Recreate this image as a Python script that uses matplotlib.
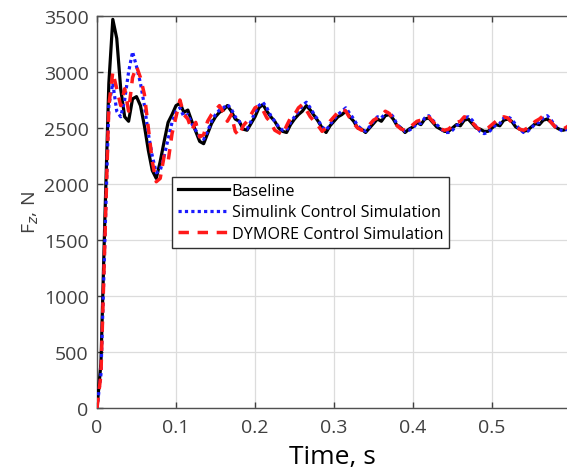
import numpy as np
import matplotlib
matplotlib.use("Agg")
import matplotlib.pyplot as plt

plt.rcParams['font.family'] = ['Open Sans', 'DejaVu Sans']

time_s = np.linspace(0, 0.6, 121)

baseline = [0, 400, 1700, 2900, 3470, 3300, 2850, 2600, 2560, 2760,
            2780, 2700, 2520, 2300, 2120, 2050, 2200, 2380, 2550, 2620,
            2700, 2720, 2640, 2660, 2560, 2470, 2380, 2360, 2450, 2540,
            2600, 2640, 2660, 2700, 2650, 2580, 2560, 2490, 2480, 2540,
            2600, 2680, 2710, 2650, 2600, 2560, 2500, 2470, 2460, 2530,
            2580, 2620, 2650, 2700, 2660, 2610, 2560, 2500, 2460, 2520,
            2560, 2600, 2620, 2650, 2600, 2560, 2500, 2490, 2460, 2500,
            2540, 2580, 2560, 2610, 2620, 2580, 2520, 2500, 2460, 2490,
            2510, 2550, 2530, 2580, 2590, 2550, 2510, 2490, 2470, 2470,
            2500, 2530, 2520, 2570, 2580, 2540, 2500, 2490, 2470, 2470,
            2500, 2530, 2520, 2570, 2580, 2560, 2510, 2490, 2470, 2480,
            2510, 2540, 2530, 2570, 2580, 2550, 2510, 2490, 2480, 2490,
            2520]

simulink = [0, 300, 1500, 2700, 2900, 2650, 2600, 2750, 3000, 3180,
            3050, 2900, 2700, 2450, 2250, 2100, 2120, 2250, 2400, 2550,
            2650, 2680, 2600, 2620, 2540, 2480, 2420, 2400, 2470, 2560,
            2620, 2660, 2680, 2710, 2670, 2600, 2560, 2500, 2490, 2560,
            2640, 2700, 2730, 2680, 2610, 2560, 2510, 2480, 2480, 2550,
            2600, 2650, 2700, 2730, 2680, 2620, 2570, 2510, 2480, 2530,
            2580, 2620, 2650, 2680, 2630, 2580, 2520, 2490, 2470, 2510,
            2560, 2600, 2590, 2630, 2640, 2600, 2530, 2500, 2470, 2480,
            2500, 2540, 2540, 2590, 2610, 2570, 2530, 2500, 2460, 2460,
            2480, 2520, 2540, 2590, 2600, 2570, 2510, 2470, 2450, 2460,
            2490, 2530, 2540, 2590, 2600, 2580, 2530, 2490, 2460, 2470,
            2500, 2540, 2550, 2590, 2610, 2570, 2520, 2490, 2470, 2490,
            2520]

dymore = [0, 300, 1500, 2700, 3000, 2850, 2700, 2850, 2650, 2950,
          3050, 2950, 2800, 2500, 2200, 2020, 2050, 2250, 2200, 2450,
          2600, 2750, 2620, 2580, 2480, 2550, 2420, 2440, 2560, 2620,
          2660, 2700, 2640, 2560, 2620, 2470, 2430, 2520, 2560, 2620,
          2680, 2700, 2660, 2590, 2550, 2480, 2460, 2440, 2520, 2590,
          2620, 2680, 2710, 2660, 2600, 2560, 2520, 2470, 2500, 2560,
          2600, 2640, 2670, 2650, 2590, 2540, 2500, 2480, 2490, 2530,
          2570, 2590, 2610, 2650, 2630, 2580, 2520, 2490, 2480, 2500,
          2530, 2560, 2570, 2600, 2600, 2560, 2520, 2490, 2480, 2490,
          2520, 2550, 2560, 2600, 2590, 2550, 2510, 2480, 2480, 2500,
          2530, 2560, 2570, 2600, 2590, 2550, 2510, 2490, 2480, 2500,
          2530, 2560, 2580, 2610, 2590, 2550, 2510, 2490, 2490, 2510,
          2540]

series_labels = ["Baseline", "Simulink Control Simulation", "DYMORE Control Simulation"]
x_ticks = [0, 0.1, 0.2, 0.3, 0.4, 0.5]
x_tick_labels = ["0", "0.1", "0.2", "0.3", "0.4", "0.5"]
y_ticks = [0, 500, 1000, 1500, 2000, 2500, 3000, 3500]

fig = plt.figure(figsize=(5.67, 4.77), dpi=100)
ax = fig.add_axes([97/567, 68/477, 1 - 97/567, (409-17)/477])

ax.plot(time_s, baseline, color='black', lw=2.3, label=series_labels[0], zorder=3)
ax.plot(time_s, simulink, color='#1a1aff', lw=2.3, ls=(0, (1, 1)), label=series_labels[1], zorder=4)
ax.plot(time_s, dymore, color='#ff1a1a', lw=2.5, ls=(0, (3, 2.5)), label=series_labels[2], zorder=5)

ax.set_xlim(0, 0.595)
ax.set_ylim(0, 3500)
ax.set_xticks(x_ticks)
ax.set_xticklabels(x_tick_labels)
ax.set_yticks(y_ticks)
ax.grid(True, color='#dcdcdc', lw=0.9)
ax.set_axisbelow(True)
ax.tick_params(direction='in', top=True, right=False, length=4, width=1,
               labelsize=14, labelcolor='#404040', color='#404040')
ax.tick_params(axis='x', pad=7)
ax.tick_params(axis='y', pad=6)
for s in ['left', 'bottom', 'top']:
    ax.spines[s].set_color('#505050')
    ax.spines[s].set_linewidth(1.0)
ax.spines['right'].set_visible(False)

ax.set_xlabel("Time, s", fontsize=19, color='black', labelpad=6)
ax.set_ylabel("F$_z$, N", fontsize=14, color='#404040', labelpad=2)

leg = ax.legend(loc='upper left', bbox_to_anchor=(172/567, 1 - 178/477),
                bbox_transform=fig.transFigure, borderaxespad=0,
                fontsize=11.6, frameon=True, fancybox=False, framealpha=1,
                edgecolor='#303030', handlelength=3.2, handletextpad=0.15,
                labelspacing=0.35, borderpad=0.35)
leg.get_frame().set_linewidth(1.0)

fig.savefig("out.png", dpi=100)
